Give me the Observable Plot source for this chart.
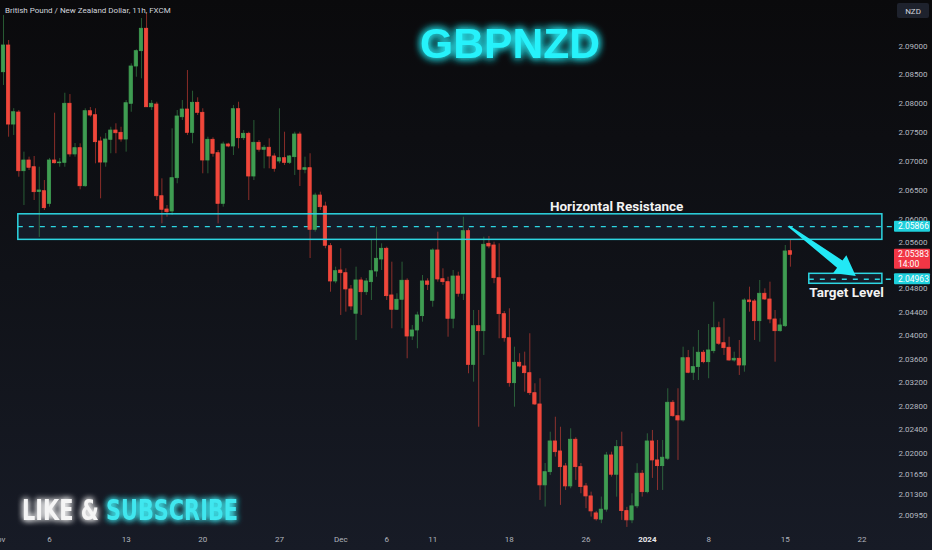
<!DOCTYPE html>
<html><head><meta charset="utf-8">
<script src="https://cdn.jsdelivr.net/npm/d3@7"></script>
<script src="https://cdn.jsdelivr.net/npm/@observablehq/plot@0.6"></script>
<style>
html,body{margin:0;padding:0;background:#0d0e12;}
#chart{width:932px;height:550px;background:linear-gradient(180deg,#0a0a0c 0%,#101218 50%,#171b26 100%);}
svg{display:block}
</style></head><body><div id="chart"></div>
<script>
// ---- data (GBPNZD, 11h bars, index 0..154) ----
const open = [2.08545,2.09012,2.07634,2.07843,2.06825,2.07010,2.06894,2.06465,2.06479,2.06261,
2.07010,2.06963,2.06970,2.07995,2.07115,2.07224,2.06565,2.07866,2.07796,2.07340,
2.06975,2.07369,2.07530,2.07490,2.07374,2.07995,2.08645,2.08913,2.09305,2.07935,
2.07982,2.06392,2.06163,2.06129,2.06704,2.07761,2.07895,2.07490,2.08012,2.07838,
2.07010,2.07369,2.07137,2.06261,2.07288,2.07253,2.07901,2.07397,2.07473,2.06733,
2.07317,2.07196,2.07231,2.07080,2.06993,2.07050,2.06970,2.07068,2.07461,2.06849,
2.06877,2.05813,2.06404,2.06215,2.05531,2.04925,2.05113,2.05067,2.04788,2.04372,
2.04942,2.04741,2.04913,2.05096,2.05302,2.05486,2.04685,2.04440,2.04611,2.04937,
2.03983,2.04086,2.04331,2.04925,2.04594,2.05457,2.04964,2.04913,2.04286,2.05010,
2.04714,2.05789,2.03500,2.04159,2.04074,2.05572,2.05543,2.04981,2.04365,2.03954,
2.03188,2.03535,2.03472,2.03358,2.03018,2.02826,2.01457,2.01680,2.02199,2.02030,
2.01777,2.01440,2.02228,2.01765,2.01440,2.01271,2.00985,2.00880,2.01048,2.01962,
2.01637,2.02103,2.01024,2.00868,2.01104,2.01654,2.01343,2.02199,2.01878,2.01782,
2.01907,2.02855,2.02627,2.02555,2.03613,2.03365,2.03461,2.03706,2.03545,2.03733,
2.04125,2.03869,2.03791,2.03574,2.03603,2.03489,2.04599,2.04582,2.04245,2.04714,
2.04616,2.04274,2.04074,2.04159,2.05445];
const close = [2.09012,2.07634,2.07848,2.06825,2.07010,2.06884,2.06462,2.06491,2.06186,2.07010,
2.06963,2.06975,2.07995,2.07115,2.07224,2.06565,2.07866,2.07791,2.07328,2.06975,
2.07374,2.07530,2.07483,2.07374,2.08005,2.08645,2.08913,2.09305,2.07935,2.07995,
2.06392,2.06158,2.06117,2.06704,2.07774,2.07895,2.07490,2.08012,2.07838,2.07010,
2.07369,2.07127,2.06261,2.07288,2.07253,2.07901,2.07397,2.07473,2.06733,2.07317,
2.07196,2.07231,2.07080,2.06866,2.07050,2.06970,2.07080,2.07461,2.06849,2.06877,
2.05813,2.06404,2.06203,2.05538,2.04925,2.05101,2.05067,2.04788,2.04496,2.04942,
2.04741,2.04925,2.05101,2.05314,2.05486,2.04673,2.04440,2.04611,2.04937,2.03983,
2.04086,2.04343,2.04925,2.04868,2.05457,2.04959,2.04913,2.04286,2.05010,2.04714,
2.05789,2.03500,2.04159,2.04074,2.05555,2.05526,2.04981,2.04365,2.03954,2.03188,
2.03535,2.03472,2.03358,2.03018,2.02826,2.01457,2.01680,2.02199,2.02018,2.01765,
2.01440,2.02228,2.01765,2.01428,2.01271,2.01019,2.00885,2.01048,2.01962,2.01637,
2.02103,2.01024,2.00868,2.01104,2.01654,2.01343,2.02199,2.01878,2.01782,2.01924,
2.02855,2.02627,2.02555,2.03613,2.03365,2.03461,2.03706,2.03545,2.03745,2.04125,
2.03859,2.03784,2.03574,2.03603,2.03489,2.04599,2.04570,2.04245,2.04714,2.04616,
2.04274,2.04074,2.04172,2.05440,2.05383];
const high = [2.09538,2.09100,2.07910,2.07878,2.07155,2.07068,2.07080,2.06894,2.06664,2.07046,
2.07831,2.07046,2.08179,2.08156,2.07305,2.07300,2.07908,2.07930,2.07908,2.07414,
2.07478,2.07587,2.07647,2.07587,2.08052,2.08692,2.08937,2.09485,2.09572,2.08052,
2.08022,2.06693,2.06232,2.07560,2.07878,2.08052,2.08575,2.08214,2.08099,2.07908,
2.07414,2.07404,2.07184,2.07328,2.07310,2.07965,2.08022,2.07530,2.07501,2.07704,
2.07357,2.07270,2.07386,2.07127,2.07908,2.07501,2.07097,2.07501,2.07501,2.07068,
2.07127,2.06444,2.06462,2.06289,2.05577,2.05170,2.05486,2.05142,2.04856,2.05170,
2.04988,2.04976,2.05629,2.05858,2.05572,2.05514,2.05256,2.04714,2.05256,2.04971,
2.04172,2.04399,2.05027,2.04971,2.05486,2.05772,2.05142,2.04998,2.05113,2.05084,
2.06030,2.05830,2.04428,2.04428,2.05686,2.05698,2.05600,2.05572,2.04411,2.04457,
2.03801,2.03689,2.03716,2.04030,2.03178,2.03263,2.01827,2.02356,2.02610,2.02440,
2.01827,2.02414,2.02262,2.01827,2.01490,2.01343,2.01019,2.01260,2.02013,2.02018,
2.02216,2.02356,2.01087,2.01316,2.01822,2.01709,2.02329,2.02385,2.02216,2.02216,
2.03093,2.02894,2.03093,2.03801,2.03745,2.03801,2.04086,2.03745,2.04189,2.04570,
2.04228,2.04286,2.03971,2.03716,2.03915,2.04628,2.04827,2.04616,2.04942,2.04799,
2.04913,2.04428,2.04286,2.05543,2.05629];
const low = [2.08314,2.07414,2.07444,2.06721,2.06232,2.06837,2.06318,2.05681,2.06146,2.06203,
2.06949,2.06894,2.06894,2.07068,2.07068,2.06503,2.06548,2.07761,2.06953,2.06347,
2.06894,2.07127,2.07127,2.07328,2.07155,2.07848,2.08458,2.08430,2.07930,2.07878,
2.06318,2.05916,2.06030,2.06060,2.06607,2.07704,2.07444,2.07300,2.07791,2.06780,
2.06780,2.07068,2.05916,2.06203,2.07231,2.07097,2.07213,2.07357,2.06318,2.06664,
2.07155,2.06866,2.06866,2.06808,2.06953,2.06924,2.06941,2.06751,2.06560,2.06780,
2.05319,2.05772,2.06146,2.05486,2.04741,2.04886,2.04343,2.04399,2.04428,2.03915,
2.04343,2.04685,2.04599,2.04998,2.05113,2.04599,2.04115,2.04428,2.04115,2.03603,
2.03915,2.03774,2.04228,2.04770,2.04484,2.04913,2.04856,2.03971,2.04115,2.04656,
2.04599,2.03348,2.03205,2.02440,2.03660,2.05486,2.04886,2.03944,2.03886,2.03120,
2.02780,2.03450,2.03035,2.02979,2.02809,2.01204,2.01092,2.01625,2.01934,2.01120,
2.01372,2.01400,2.01541,2.01316,2.01065,2.00923,2.00856,2.00812,2.01007,2.01597,
2.01259,2.00868,2.00750,2.00812,2.01065,2.01260,2.01316,2.01575,2.01372,2.01372,
2.01878,2.02610,2.01878,2.02526,2.03348,2.03234,2.03234,2.03518,2.03263,2.03689,
2.03830,2.03660,2.03562,2.03545,2.03319,2.03375,2.04399,2.03915,2.03886,2.04599,
2.04201,2.03545,2.04057,2.04137,2.05170];

// time-axis labels (bar index where each label sits)
const dateTickIndex = [-1, 9, 24, 39, 54, 66, 75, 84, 99, 114, 126, 138, 153, 168];
const dateTickLabel = ["Nov","6","13","20","27","Dec","6","11","18","26","2024","8","15","22"];
// price-axis labels
const priceTicks = [2.09,2.085,2.08,2.075,2.07,2.065,2.06,2.056,2.048,2.044,2.04,2.036,2.032,2.028,2.024,2.02,2.0165,2.013,2.0095];

// annotations (bar index / price)
const zoneName = ["Horizontal Resistance","Target Level"];
const zoneFrom = [2.9, 157.7];
const zoneTo = [172, 172];
const zoneLow = [2.0564, 2.04885];
const zoneHigh = [2.0608, 2.05056];
const zoneLevel = [2.05866, 2.04963];
const zoneLabelAt = [120, 165];
const zoneLabelPrice = [2.0613, 2.04665];
const lastPrice = 2.05383, lastTime = "14:00";
const arrowFrom = {i: 153.8, p: 2.05866}, arrowTo = {i: 166.9, p: 2.0501};

const bars = open.map((o, i) => ({i, open: o, high: high[i], low: low[i], close: close[i]}));
const zones = zoneName.map((n, k) => ({name: n, x1: zoneFrom[k], x2: zoneTo[k], y1: zoneLow[k], y2: zoneHigh[k],
  level: zoneLevel[k], lx: zoneLabelAt[k], ly: zoneLabelPrice[k]}));
const dates = dateTickIndex.map((d, k) => ({i: d, label: dateTickLabel[k], bold: dateTickLabel[k] === "2024"}));

const UP = "#3f9d52", DOWN = "#f0473b", CYAN = "#2dd6e2";
const col = d => d.close >= d.open ? UP : DOWN;
const AXIS_END = 174.4;

const chart = Plot.plot({
  width: 932, height: 550,
  marginTop: 0, marginLeft: 0, marginRight: 37, marginBottom: 20,
  style: {background: "transparent", color: "#b2b5be", fontFamily: "Roboto, 'Noto Sans', sans-serif", overflow: "visible"},
  x: {type: "linear", domain: [0, 154], range: [3, 789.9], axis: null},
  y: {type: "log", domain: [2.0095, 2.09], range: [515, 45.7], axis: null},
  marks: [
    Plot.rect(zones, {x1: "x1", x2: "x2", y1: "y1", y2: "y2", fill: "#1b2738", fillOpacity: 0.55}),
    Plot.ruleY(zones, {y: "level", x1: "x1", x2: AXIS_END, stroke: CYAN, strokeWidth: 1.3, strokeDasharray: "5,6"}),
    Plot.ruleX(bars, {x: "i", y1: "low", y2: "high", stroke: col, strokeWidth: 1, strokeOpacity: 0.55}),
    Plot.rect(bars, {x1: d => d.i - 0.32, x2: d => d.i + 0.32, y1: "open", y2: "close", fill: col, stroke: col, strokeWidth: 0.8}),
    Plot.rect(zones, {x1: "x1", x2: "x2", y1: "y1", y2: "y2", fill: "none", stroke: CYAN, strokeWidth: 1.5}),
    Plot.text(zones, {x: "lx", y: "ly", text: "name", fill: "#f2f2f2", fontSize: 13.5, fontWeight: "bold", lineAnchor: "bottom"}),
    Plot.axisY(priceTicks, {anchor: "right", tickSize: 0, tickPadding: 3, fontSize: 8, tickFormat: d => d.toFixed(5), fill: "#b7bac2"}),
    Plot.text(dates.filter(d => !d.bold), {x: "i", text: "label", frameAnchor: "bottom", dy: 11, fontSize: 8, fill: "#b2b5be"}),
    Plot.text(dates.filter(d => d.bold), {x: "i", text: "label", frameAnchor: "bottom", dy: 11, fontSize: 8, fontWeight: "bold", fill: "#e8e8ea"})
  ]
});
document.getElementById("chart").append(chart);

// ---- overlays drawn through the plot's scales ----
const xs = chart.scale("x"), ys = chart.scale("y");
const X = v => xs.apply(v), Y = v => ys.apply(v);
const svg = d3.select(chart);
const defs = svg.insert("defs", ":first-child");
function glow(id, sd) {
  const f = defs.append("filter").attr("id", id).attr("x", "-30%").attr("y", "-60%").attr("width", "160%").attr("height", "220%");
  f.append("feGaussianBlur").attr("in", "SourceGraphic").attr("stdDeviation", sd).attr("result", "b");
  const m = f.append("feMerge");
  m.append("feMergeNode").attr("in", "b");
  m.append("feMergeNode").attr("in", "b");
  m.append("feMergeNode").attr("in", "SourceGraphic");
}
glow("glowBig", 4); glow("glowSmall", 3);
const overlay = svg.append("g").attr("text-anchor", "start").attr("font-family", "Roboto, sans-serif");

// arrow: tapered shaft + filled head
{
  const sx = X(arrowFrom.i), sy = Y(arrowFrom.p), tx = X(arrowTo.i), ty = Y(arrowTo.p);
  const L = Math.hypot(tx - sx, ty - sy), ux = (tx - sx) / L, uy = (ty - sy) / L, nx = -uy, ny = ux;
  const bl = L - 20, bx = sx + ux * bl, by = sy + uy * bl;
  const pts = [[sx + nx * 1, sy + ny * 1], [bx + nx * 4.5, by + ny * 4.5], [bx + nx * 11, by + ny * 11], [tx, ty],
    [bx - nx * 11, by - ny * 11], [bx - nx * 4.5, by - ny * 4.5], [sx - nx * 1, sy - ny * 1]];
  overlay.append("path").attr("d", "M" + pts.map(p => p.join(",")).join("L") + "Z").attr("fill", "#22e8f5");
}

// price tags on the axis
function tag(price, fill, lines) {
  const y = Y(price), h = lines.length === 1 ? 11 : 20;
  overlay.append("rect").attr("x", 894).attr("y", y - 5.5).attr("width", 36).attr("height", h).attr("rx", 1).attr("fill", fill);
  lines.forEach((t, k) => overlay.append("text").attr("x", 898).attr("y", y + 3 + k * 9.5).attr("font-size", 8.5)
    .attr("text-anchor", "start").attr("fill", "#ffffff").text(t));
}
tag(zoneLevel[0], "#1fd0dc", [zoneLevel[0].toFixed(5)]);
tag(lastPrice, "#f23645", [lastPrice.toFixed(5), lastTime]);
tag(zoneLevel[1], "#1fd0dc", [zoneLevel[1].toFixed(5)]);

// currency box
overlay.append("rect").attr("x", 897).attr("y", 3).attr("width", 32).attr("height", 15).attr("rx", 2).attr("fill", "#1e222d");
overlay.append("text").attr("x", 913).attr("y", 13.5).attr("text-anchor", "middle").attr("font-size", 8)
  .attr("fill", "#d1d4dc").text("NZD");

// header
overlay.append("text").attr("x", 5).attr("y", 13).attr("text-anchor", "start").attr("font-size", 8)
  .attr("fill", "#d1d4dc").text("British Pound / New Zealand Dollar, 11h, FXCM");

// big title
overlay.append("text").attr("x", 510).attr("y", 58).attr("text-anchor", "middle").attr("font-size", 42)
  .attr("font-weight", "bold").attr("font-family", "'Liberation Sans', Arial, sans-serif")
  .attr("textLength", 180).attr("lengthAdjust", "spacingAndGlyphs")
  .attr("fill", "#27f2fb").attr("filter", "url(#glowBig)").text("GBPNZD");

// like & subscribe
{
  const t = overlay.append("text").attr("x", 22).attr("y", 520).attr("text-anchor", "start").attr("font-size", 29).attr("font-weight", "bold")
    .attr("font-family", "'Liberation Sans Narrow', 'DejaVu Sans Condensed', sans-serif")
    .attr("textLength", 216).attr("lengthAdjust", "spacingAndGlyphs").attr("filter", "url(#glowSmall)");
  t.append("tspan").attr("fill", "#f5f5f5").text("LIKE & ");
  t.append("tspan").attr("fill", "#3fe7ef").text("SUBSCRIBE");
}
</script></body></html>
